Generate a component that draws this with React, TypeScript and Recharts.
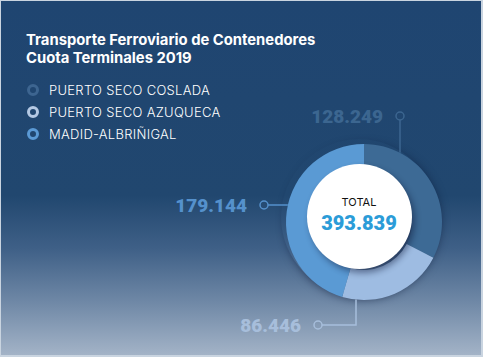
import { PieChart, Pie, Cell } from "recharts";

const terminals = ["PUERTO SECO COSLADA", "PUERTO SECO AZUQUECA", "MADID-ALBRIÑIGAL"];
const volumes = [128249, 86446, 179144];
const valueLabels = ["128.249", "86.446", "179.144"];
const totalLabel = "393.839";

const sliceColors = ["#3d6a95", "#9ebce2", "#5a9ad4"];
const labelColors = ["#3c6690", "#a7bedb", "#5591cc"];
const legendColors = ["#3d6590", "#b4c9e4", "#5b9ad5"];

const data = terminals.map((name, i) => ({ name, value: volumes[i] }));

const FONT = "Inter, 'Open Sans', sans-serif";
const NUM_FONT = "Roboto, Inter, sans-serif";

// elbow label for each slice, placed relative to the pie centre
function SliceLabel(props: any) {
  const { cx, cy, outerRadius, index } = props;
  const color = labelColors[index];
  let pts: [number, number][] = [];
  let dot: [number, number] = [0, 0];
  if (index === 0) {
    const x = cx + 36;
    const y0 = cy - Math.sqrt(outerRadius * outerRadius - 36 * 36);
    dot = [x, cy - 106];
    pts = [[x, y0], [x, dot[1] + 4]];
  } else if (index === 1) {
    const x = cx - 8;
    const y0 = cy + Math.sqrt(outerRadius * outerRadius - 64);
    dot = [cx - 46, cy + 103];
    pts = [[x, y0], [x, dot[1]], [dot[0] + 4, dot[1]]];
  } else {
    const y = cy - 17;
    const x0 = cx - Math.sqrt(outerRadius * outerRadius - 17 * 17);
    dot = [cx - 100, y];
    pts = [[x0, y], [dot[0] + 4, y]];
  }
  return (
    <g>
      <polyline
        points={pts.map((p) => p.join(",")).join(" ")}
        fill="none"
        stroke={color}
        strokeWidth={1.5}
      />
      <circle cx={dot[0]} cy={dot[1]} r={4} fill="none" stroke={color} strokeWidth={1.5} />
      <text
        x={dot[0] - 17}
        y={dot[1] + 6.5}
        textAnchor="end"
        fill={color}
        style={{ fontFamily: NUM_FONT, fontWeight: 900, fontSize: 19 }}
      >
        {valueLabels[index]}
      </text>
    </g>
  );
}

export default function App() {
  const cx = 359;
  const cy = 217;
  return (
    <div
      style={{
        position: "fixed",
        left: 0,
        top: 0,
        width: 483,
        height: 357,
        background: "#c9d4e0",
        fontFamily: FONT,
      }}
    >
      <div
        style={{
          position: "absolute",
          left: 1,
          top: 1,
          width: 480,
          height: 354,
          background:
            "linear-gradient(180deg, #1f4571 0%, #21476f 55%, #3f6087 70%, #6f88a6 85%, #a3b3c7 100%)",
        }}
      />
      <div
        style={{
          position: "absolute",
          left: 26,
          top: 31,
          color: "#ffffff",
          fontWeight: 700,
          fontSize: 14.8,
          lineHeight: "18px",
        }}
      >
        Transporte Ferroviario de Contenedores
        <br />
        Cuota Terminales 2019
      </div>
      {terminals.map((t, i) => (
        <div
          key={t}
          style={{
            position: "absolute",
            left: 27,
            top: 82 + i * 22,
            height: 16,
            display: "flex",
            alignItems: "center",
            color: "#ffffff",
            fontSize: 13,
            fontWeight: 300,
            letterSpacing: 0.3,
          }}
        >
          <span
            style={{
              width: 6,
              height: 6,
              borderRadius: "50%",
              border: `3px solid ${legendColors[i]}`,
              marginRight: 10,
            }}
          />
          {t}
        </div>
      ))}
      {/* soft shadow under the donut */}
      <div
        style={{
          position: "absolute",
          left: cx - 78,
          top: cy - 78,
          width: 156,
          height: 156,
          borderRadius: "50%",
          boxShadow: "4px 5px 8px rgba(10,20,50,0.55)",
        }}
      />
      <div style={{ position: "absolute", left: 0, top: 0 }}>
        <PieChart width={483} height={357}>
          <Pie
            data={data}
            dataKey="value"
            nameKey="name"
            cx={cx}
            cy={cy}
            innerRadius={48}
            outerRadius={78}
            startAngle={90}
            endAngle={-270}
            stroke="none"
            label={SliceLabel}
            labelLine={false}
            isAnimationActive={false}
          >
            {data.map((d, i) => (
              <Cell key={d.name} fill={sliceColors[i]} />
            ))}
          </Pie>
        </PieChart>
      </div>
      <div
        style={{
          position: "absolute",
          left: cx - 52.5,
          top: cy - 53,
          width: 105,
          height: 105,
          borderRadius: "50%",
          background: "#ffffff",
          boxShadow: "3px 4px 6px rgba(10,20,50,0.45)",
          textAlign: "center",
        }}
      >
        <div style={{ marginTop: 32, fontSize: 11, color: "#111", lineHeight: "13px" }}>TOTAL</div>
        <div
          style={{
            marginTop: 3,
            fontSize: 20,
            fontWeight: 900,
            color: "#2b9cd8",
            fontFamily: NUM_FONT,
            lineHeight: "22px",
          }}
        >
          {totalLabel}
        </div>
      </div>
    </div>
  );
}
